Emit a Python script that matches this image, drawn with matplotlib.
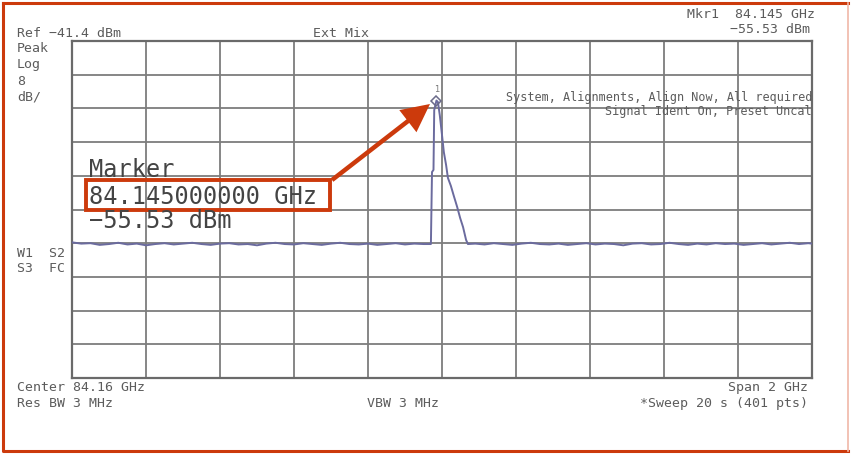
import matplotlib.pyplot as plt
from matplotlib.patches import Rectangle, FancyArrow
from matplotlib.lines import Line2D

# analyzer settings shown on screen
center_ghz = 84.16
span_ghz = 2.0
ref_dbm = -41.4
db_per_div = 8
marker_ghz = 84.145
marker_dbm = -55.53

# sweep trace (GHz, dBm)
trace_ghz = [
    83.16, 83.185, 83.21, 83.235, 83.26, 83.285, 83.31, 83.335, 83.36, 83.385,
    83.41, 83.435, 83.46, 83.485, 83.51, 83.535, 83.56, 83.585, 83.61, 83.635,
    83.66, 83.685, 83.71, 83.735, 83.76, 83.785, 83.81, 83.835, 83.86, 83.885,
    83.91, 83.935, 83.96, 83.985, 84.01, 84.035, 84.06, 84.085, 84.11,
    84.130, 84.133, 84.137, 84.139, 84.145, 84.149, 84.154, 84.160, 84.165,
    84.171, 84.176, 84.184, 84.192, 84.201, 84.209, 84.217, 84.225, 84.230,
    84.25, 84.275, 84.30, 84.325, 84.35, 84.375, 84.40, 84.425, 84.45, 84.475,
    84.50, 84.525, 84.55, 84.575, 84.60, 84.625, 84.65, 84.675, 84.70, 84.725,
    84.75, 84.775, 84.80, 84.825, 84.85, 84.875, 84.90, 84.925, 84.95, 84.975,
    85.00, 85.025, 85.05, 85.075, 85.10, 85.125, 85.15, 85.16,
]
trace_dbm = [
    -89.2, -89.5, -89.4, -89.8, -89.6, -89.3, -89.7, -89.5, -89.9, -89.6,
    -89.4, -89.7, -89.5, -89.3, -89.6, -89.8, -89.5, -89.4, -89.7, -89.6,
    -89.9, -89.5, -89.3, -89.6, -89.7, -89.4, -89.6, -89.8, -89.5, -89.3,
    -89.6, -89.7, -89.5, -89.8, -89.6, -89.4, -89.7, -89.5, -89.6,
    -89.6, -72.5, -72.0, -57.8, -55.53, -55.9, -59.0, -63.7, -67.8,
    -70.8, -73.9, -75.8, -78.2, -80.8, -83.4, -85.6, -88.6, -89.6,
    -89.5, -89.7, -89.4, -89.6, -89.8, -89.5, -89.3, -89.6, -89.7, -89.5,
    -89.8, -89.6, -89.4, -89.7, -89.5, -89.6, -89.9, -89.5, -89.4, -89.7,
    -89.6, -89.3, -89.6, -89.8, -89.5, -89.7, -89.4, -89.6, -89.5, -89.8,
    -89.6, -89.4, -89.7, -89.5, -89.3, -89.6, -89.4, -89.5,
]

W, H = 852, 455
fig = plt.figure(figsize=(W / 100, H / 100), dpi=100)

# screen graticule: 10 x 10 divisions
gx0, gx1, gy0, gy1 = 72, 812, 41, 378
ax = fig.add_axes([gx0 / W, 1 - gy1 / H, (gx1 - gx0) / W, (gy1 - gy0) / H])
f0 = center_ghz - span_ghz / 2
ax.set_xlim(f0, f0 + span_ghz)
ax.set_ylim(ref_dbm - 10 * db_per_div, ref_dbm)
ax.set_xticks([f0 + i * span_ghz / 10 for i in range(11)])
ax.set_yticks([ref_dbm - i * db_per_div for i in range(11)])
ax.tick_params(length=0, labelbottom=False, labelleft=False)
ax.grid(True, color="#7d7d7d", lw=1.3)
for s in ax.spines.values():
    s.set_color("#6a6a6a")
    s.set_linewidth(1.6)

ax.plot(trace_ghz, trace_dbm, color="#6b6b9e", lw=1.4, zorder=3)
ax.plot([marker_ghz], [marker_dbm], marker="D", ms=5, mfc="none",
        mec="#6b6b8a", mew=1.1, zorder=4)
ax.annotate("1", (marker_ghz, marker_dbm), xytext=(0, 5), textcoords="offset points",
            ha="center", va="bottom", fontsize=6, color="#777777")

# overlay in pixel coordinates for the screen annotations
ov = fig.add_axes([0, 0, 1, 1], facecolor="none")
ov.set_xlim(0, W)
ov.set_ylim(H, 0)
ov.axis("off")

orange = "#cc3a0c"
ov.add_line(Line2D([3, 3, 848], [3, 451, 451], color=orange, lw=2.2))
ov.add_line(Line2D([3, 848], [3, 3], color=orange, lw=2.2))
ov.add_line(Line2D([848, 848], [3, 451], color="#f0b8a8", lw=1.2))

small = dict(family="DejaVu Sans Mono", fontsize=9.5, color="#5c5c5c", va="baseline")
ov.text(17, 37, "Ref \u221241.4 dBm", **small)
for yy, s in zip([52, 68, 85, 101], ["Peak", "Log", "8", "dB/"]):
    ov.text(17, yy, s, **small)
ov.text(313, 37, "Ext Mix", **small)
ov.text(815, 18, "Mkr1  84.145 GHz", ha="right", **small)
ov.text(810, 33, "\u221255.53 dBm", ha="right", **small)
ov.text(812, 101, "System, Alignments, Align Now, All required", ha="right",
        **dict(small, fontsize=8.5))
ov.text(812, 115, "Signal Ident On, Preset Uncal", ha="right",
        **dict(small, fontsize=8.5))
ov.text(17, 257, "W1  S2", **small)
ov.text(17, 272, "S3  FC", **small)
ov.text(17, 391, "Center 84.16 GHz", **small)
ov.text(17, 407, "Res BW 3 MHz", **small)
ov.text(367, 407, "VBW 3 MHz", **small)
ov.text(808, 391, "Span 2 GHz", ha="right", **small)
ov.text(808, 407, "*Sweep 20 s (401 pts)", ha="right", **small)

big = dict(family="DejaVu Sans Mono", fontsize=17, color="#444444", va="baseline")
ov.text(89, 177, "Marker", **big)
ov.text(89, 204, "84.145000000 GHz", **big)
ov.text(89, 228, "\u221255.53 dBm", **big)

ov.add_patch(Rectangle((86, 180), 244, 30, fill=False, ec=orange, lw=2.8))
ov.add_patch(FancyArrow(332, 180, 430 - 332, 104 - 180, width=4.5, head_width=28,
                        head_length=28, length_includes_head=True,
                        color=orange, lw=0))

fig.savefig("out.png", dpi=100)
